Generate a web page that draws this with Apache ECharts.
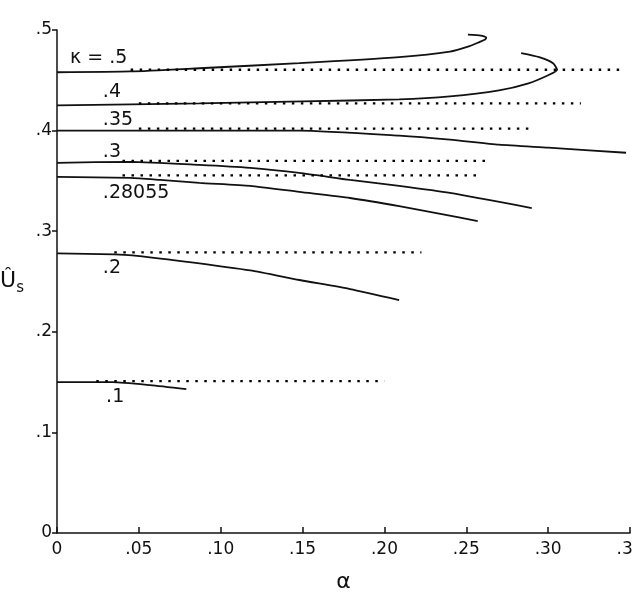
<!DOCTYPE html>
<html>
<head>
<meta charset="utf-8">
<script src="https://cdn.jsdelivr.net/npm/echarts@6/dist/echarts.min.js"></script>
<style>html,body{margin:0;padding:0;background:#fff}#c{width:634px;height:599px}</style>
</head>
<body>
<div id="c"></div>
<script>
// ---- data ----
var xTickLabels = ['0', '.05', '.10', '.15', '.20', '.25', '.30', '.35'];
var yTickLabels = ['0', '.1', '.2', '.3', '.4', '.5'];

var kappa50 = [[0,.458],[.045,.4588],[.087,.462],[.148,.467],[.209,.473],[.240,.4785],[.252,.4840],[.258,.4880],[.2615,.4905],[.2622,.4925],[.2590,.4945],[.2510,.4955]];
var kappa40 = [[0,.425],[.087,.427],[.150,.429],[.209,.431],[.240,.434],[.270,.440],[.288,.447],[.300,.455],[.3055,.4605],[.3030,.4670],[.2945,.4730],[.2835,.4770]];
var kappa35 = [[0,.400],[.148,.400],[.209,.395],[.240,.391],[.270,.386],[.300,.383],[.3476,.378]];
var kappa30 = [[0,.368],[.045,.369],[.087,.366],[.118,.363],[.148,.358],[.179,.351],[.209,.345],[.240,.338],[.290,.323]];
var kappa28055 = [[0,.354],[.045,.353],[.063,.351],[.087,.348],[.118,.345],[.148,.339],[.179,.333],[.209,.325],[.235,.317],[.257,.310]];
var kappa20 = [[0,.278],[.035,.277],[.046,.276],[.077,.270],[.118,.261],[.148,.2515],[.179,.2425],[.209,.2316]];
var kappa10 = [[0,.150],[.034,.150],[.057,.147],[.079,.143]];

// asymptote (dotted) levels: [y, xStart, xEnd]
var asym50 = [.4605, .045, .345];
var asym40 = [.4270, .050, .320];
var asym35 = [.4020, .050, .290];
var asym30 = [.3700, .040, .262];
var asym28055 = [.3555, .040, .256];
var asym20 = [.2790, .035, .2226];
var asym10 = [.1510, .024, .200];

var curveLabels = ['\u03ba = .5', '.4', '.35', '.3', '.28055', '.2', '.1'];
var curveLabelX = [.008, .028, .028, .028, .028, .028, .030];
var curveLabelY = [.472, .438, .4105, .379, .338, .263, .135];

// ---- chart ----
var solids = [kappa50, kappa40, kappa35, kappa30, kappa28055, kappa20, kappa10];
var asyms = [asym50, asym40, asym35, asym30, asym28055, asym20, asym10];
var series = [];
solids.forEach(function (d) {
  series.push({
    type: 'line', data: d, smooth: 0.2, symbol: 'none', silent: true,
    lineStyle: { color: '#111', width: 1.8 }
  });
});
asyms.forEach(function (a) {
  series.push({
    type: 'line', data: [[a[1], a[0]], [a[2], a[0]]], symbol: 'none', silent: true,
    lineStyle: { color: '#000', width: 2.3, type: [2.5, 6.5] }
  });
});
series.push({
  type: 'scatter', symbolSize: 0, silent: true,
  itemStyle: { opacity: 1, color: '#111' },
  data: curveLabels.map(function (t, i) { return [curveLabelX[i], curveLabelY[i], t]; }),
  label: {
    show: true, position: 'inside', align: 'left', verticalAlign: 'middle', opacity: 1,
    formatter: function (p) { return p.value[2]; },
    color: '#111', fontSize: 19, fontFamily: 'DejaVu Sans', textBorderWidth: 0
  }
});

var chart = echarts.init(document.getElementById('c'), null, { renderer: 'canvas' });
chart.setOption({
  animation: false,
  backgroundColor: '#fff',
  grid: { left: 57, right: 4, top: 30, bottom: 66, containLabel: false, outerBoundsMode: 'none' },
  xAxis: {
    type: 'value', min: 0, max: 0.35, interval: 0.05,
    name: '\u03b1', nameLocation: 'middle', nameGap: 38,
    nameTextStyle: { fontSize: 22, color: '#111', fontFamily: 'DejaVu Sans' },
    axisLine: { lineStyle: { color: '#111', width: 1.5 } },
    axisTick: { inside: true, length: 6, lineStyle: { color: '#111', width: 1.5 } },
    axisLabel: {
      margin: 8, color: '#111', fontSize: 17, fontFamily: 'DejaVu Sans',
      formatter: function (v) { return xTickLabels[Math.round(v / 0.05)]; }
    },
    splitLine: { show: false }
  },
  yAxis: {
    type: 'value', min: 0, max: 0.5, interval: 0.1,
    name: '{u|\u00db}{s|s}', nameLocation: 'middle', nameGap: 33, nameRotate: 0,
    nameTextStyle: {
      color: '#111', fontFamily: 'DejaVu Sans',
      rich: {
        u: { fontSize: 22, fontFamily: 'DejaVu Sans', color: '#111' },
        s: { fontSize: 15, fontFamily: 'DejaVu Sans', color: '#111', padding: [14, 0, 0, 0] }
      }
    },
    axisLine: { show: true, lineStyle: { color: '#111', width: 1.5 } },
    axisTick: { show: true, inside: false, length: 5, lineStyle: { color: '#111', width: 1.5 } },
    axisLabel: {
      margin: 5, color: '#111', fontSize: 17, fontFamily: 'DejaVu Sans',
      formatter: function (v) { return yTickLabels[Math.round(v / 0.1)]; }
    },
    splitLine: { show: false }
  },
  series: series
});
</script>
</body>
</html>
